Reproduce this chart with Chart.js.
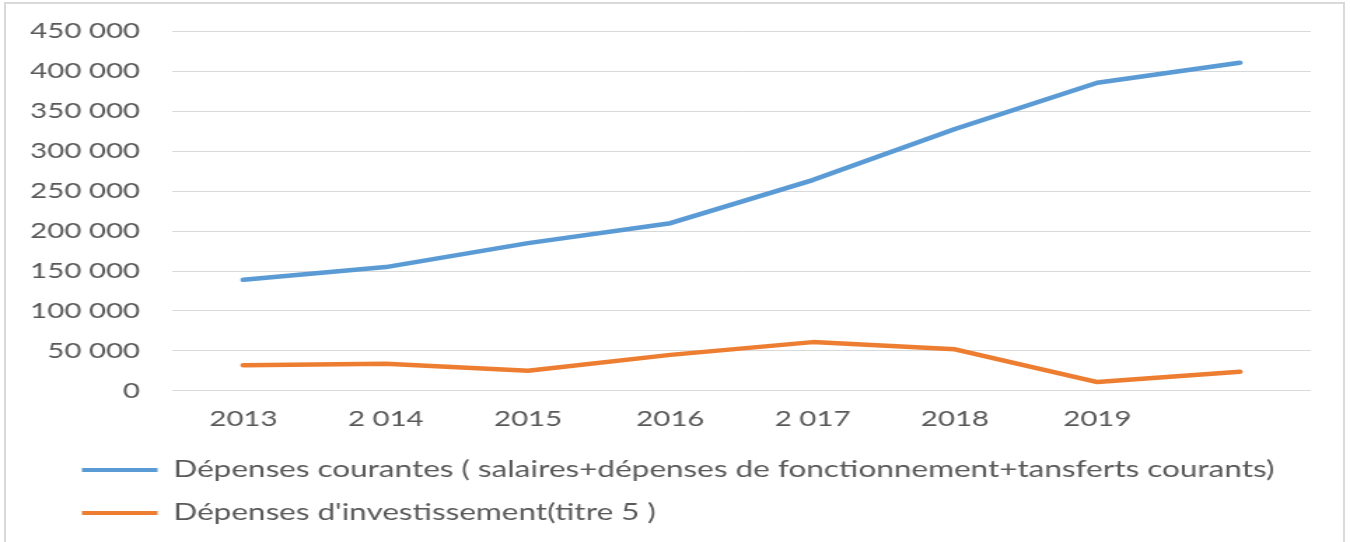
<!DOCTYPE html>
<html>
<head>
<meta charset="utf-8">
<script src="https://cdn.jsdelivr.net/npm/chart.js@4"></script>
<style>
  html, body { margin: 0; padding: 0; background: #ffffff; overflow: hidden; }
  #frame { position: absolute; left: 4px; top: 2px; width: 1341px; height: 560px; border: 2px solid #d9d9d9; box-sizing: border-box; }
  #c { position: absolute; left: 0; top: -4px; transform-origin: 0 0; }
</style>
</head>
<body>
<div id="frame"></div>
<canvas id="c" width="964" height="542"></canvas>
<script>
const categories = ['2013', '2 014', '2015', '2016', '2 017', '2018', '2019', ''];
const depensesCourantes = [139000, 155000, 185000, 210000, 264000, 328000, 386000, 411000];
const depensesInvestissement = [32000, 34000, 25000, 45000, 61000, 52000, 11000, 24000];
const seriesNames = [
  'Dépenses courantes ( salaires+dépenses de fonctionnement+tansferts courants)',
  "Dépenses d'investissement(titre 5 )"
];
const yMin = 0, yMax = 450000, yStep = 50000;

const STRETCH = 1350 / 964;
const canvas = document.getElementById('c');
canvas.style.transform = 'scaleX(' + STRETCH + ')';

const LEGEND_FONT = 22.5;
const LEGEND_PAD = 20.5;

function fmt(v) {
  return String(v).replace(/\B(?=(\d{3})+(?!\d))/g, ' ');
}

const legendShift = {
  id: 'legendShift',
  afterLayout(chart) {
    const lg = chart.legend;
    if (lg) {
      const h = lg.height;
      lg.left += 38;
      lg.top = 474 - LEGEND_PAD - LEGEND_FONT / 2;
      lg.bottom = lg.top + h;
    }
  }
};

function draw() {
  Chart.defaults.font.family = 'Lato';
  Chart.defaults.color = '#595959';
  new Chart(canvas, {
    type: 'line',
    data: {
      labels: categories,
      datasets: [
        { label: seriesNames[0], data: depensesCourantes, borderColor: '#5b9bd5', backgroundColor: '#5b9bd5',
          borderWidth: 4.5, pointRadius: 0, tension: 0, fill: false, borderCapStyle: 'round', borderJoinStyle: 'round' },
        { label: seriesNames[1], data: depensesInvestissement, borderColor: '#ed7d31', backgroundColor: '#ed7d31',
          borderWidth: 4.5, pointRadius: 0, tension: 0, fill: false, borderCapStyle: 'round', borderJoinStyle: 'round' }
      ]
    },
    options: {
      responsive: false,
      animation: false,
      devicePixelRatio: 1,
      layout: { autoPadding: false, padding: { left: 0, right: 28, top: 31, bottom: 4 } },
      plugins: {
        tooltip: { enabled: false },
        legend: {
          position: 'bottom',
          align: 'start',
          labels: {
            font: { size: LEGEND_FONT },
            color: '#595959',
            boxWidth: 54,
            boxHeight: 4,
            padding: LEGEND_PAD,
            generateLabels(chart) {
              const items = Chart.defaults.plugins.legend.labels.generateLabels(chart);
              return items.map(it => Object.assign(it, { lineWidth: 0, fillStyle: it.strokeStyle }));
            }
          }
        }
      },
      scales: {
        x: {
          offset: true,
          grid: { display: false },
          border: { display: false },
          afterFit(scale) { scale.height -= 2; },
          ticks: { font: { size: 21 }, color: '#595959', padding: 8, maxRotation: 0, autoSkip: false }
        },
        y: {
          min: yMin,
          max: yMax,
          afterFit(scale) { scale.width = 123; },
          grid: { color: '#d9d9d9', lineWidth: 1, drawTicks: false },
          border: { display: false },
          ticks: { stepSize: yStep, font: { size: 21 }, color: '#595959', padding: 23, callback: v => fmt(v) }
        }
      }
    },
    plugins: [legendShift]
  });
}

if (document.fonts && document.fonts.load) {
  document.fonts.load('21px Lato').then(draw, draw);
} else {
  draw();
}
</script>
</body>
</html>
